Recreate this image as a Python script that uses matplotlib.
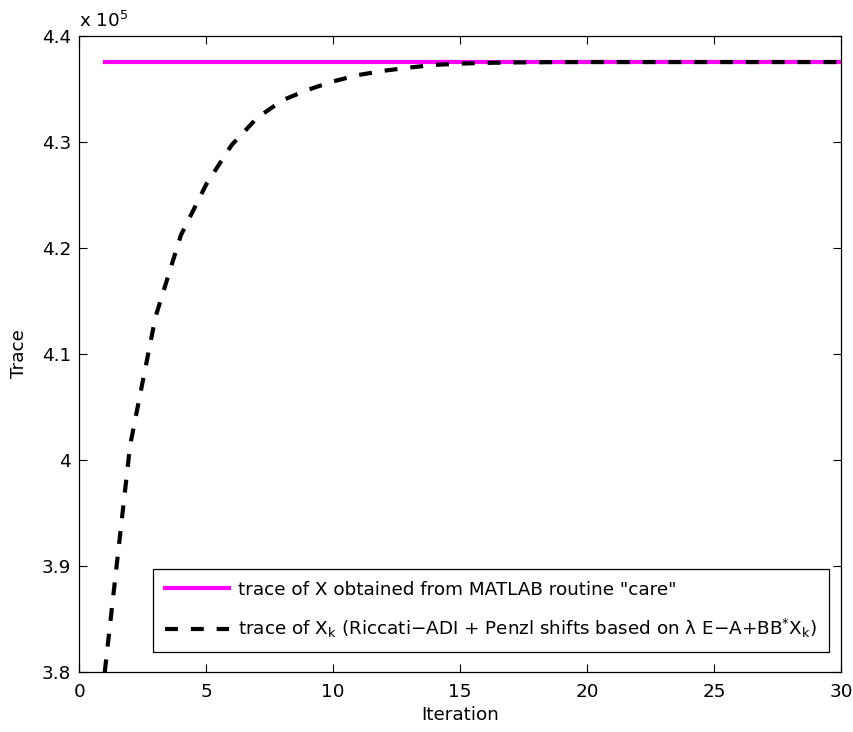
#!/usr/bin/env python3
"""Trace of Riccati-ADI iterates vs. the MATLAB care solution."""

import matplotlib
matplotlib.use("Agg")
import matplotlib.pyplot as plt
from matplotlib.ticker import FuncFormatter

plt.rcParams["font.family"] = ["DejaVu Sans"]
plt.rcParams["mathtext.fontset"] = "dejavusans"

FS = 13.2

# Data
iterations = list(range(1, 31))
trace_care = 437520.0
trace_adi = [
    380000, 401400, 413500, 421200, 426000, 429700, 432250, 433920, 434900, 435700,
    436300, 436700, 437000, 437250, 437370, 437440, 437480, 437500, 437515, 437520,
    437520, 437520, 437520, 437520, 437520, 437520, 437520, 437520, 437520, 437520,
]

fig = plt.figure(figsize=(8.54, 7.32), dpi=100)
ax = fig.add_axes([0.0929, 0.0816, 0.8919, 0.8696])

ax.plot([iterations[0], iterations[-1]], [trace_care, trace_care],
        color="#ff00ff", linewidth=3,
        label='trace of X obtained from MATLAB routine "care"')
ax.plot(iterations, trace_adi, color="black", linewidth=3, dashes=(3.1, 3.1),
        label=r"trace of X$_{\mathrm{k}}$ (Riccati$-$ADI + Penzl shifts based on "
              r"λ E$-$A+BB$^{*}$X$_{\mathrm{k}}$)")

ax.set_xlim(0, 30)
ax.set_ylim(380000, 440000)
ax.set_xticks(range(0, 31, 5))
ax.set_yticks([380000 + 10000 * i for i in range(7)])
ax.yaxis.set_major_formatter(FuncFormatter(lambda v, p: f"{v / 1e5:g}"))
ax.tick_params(direction="in", top=True, right=True, labelsize=FS,
               length=5.5, width=0.8)
ax.tick_params(axis="x", pad=8)
ax.tick_params(axis="y", pad=6)
for s in ax.spines.values():
    s.set_linewidth(0.9)

ax.text(0.0, 1.008, r"x 10$^{5}$", transform=ax.transAxes, fontsize=FS,
        ha="left", va="bottom")

ax.set_xlabel("Iteration", fontsize=FS, labelpad=3)
ax.set_ylabel("Trace", fontsize=FS, labelpad=10)

leg = ax.legend(loc="lower right", bbox_to_anchor=(0.984, 0.032), fontsize=FS,
                borderaxespad=0, fancybox=False, framealpha=1,
                edgecolor="black", handlelength=3.5, handletextpad=0.45,
                borderpad=0.65, labelspacing=1.0)
leg.get_frame().set_linewidth(0.9)

fig.savefig("out.png", dpi=100)
